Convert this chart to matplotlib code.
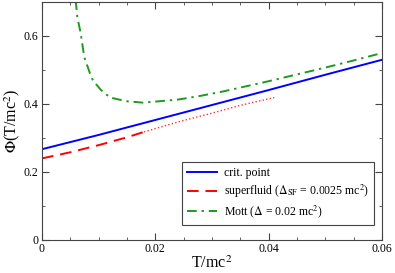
import matplotlib
matplotlib.use("Agg")
import matplotlib.pyplot as plt
from matplotlib.ticker import MultipleLocator

plt.rcParams['font.family'] = ['Liberation Serif', 'DejaVu Serif']
plt.rcParams['mathtext.fontset'] = 'stix'

# critical point line
crit_T = [0.0, 0.005, 0.01, 0.02, 0.03, 0.04, 0.05, 0.06]
crit_phi = [0.267, 0.288, 0.309, 0.353, 0.397, 0.441, 0.486, 0.530]

# superfluid, dashed part then dotted continuation
sf_T = [0.0, 0.005, 0.01, 0.015, 0.018]
sf_phi = [0.240, 0.258, 0.279, 0.302, 0.318]
sf_dot_T = [0.018, 0.0244, 0.03, 0.035, 0.041]
sf_dot_phi = [0.318, 0.349, 0.373, 0.396, 0.419]

# Mott
mott_T = [0.00595, 0.00623, 0.00683, 0.00746, 0.00847, 0.0090, 0.01036, 0.0120,
          0.01495, 0.0178, 0.02, 0.024, 0.028, 0.032, 0.036, 0.04, 0.045, 0.05,
          0.055, 0.06]
mott_phi = [0.705, 0.656, 0.608, 0.538, 0.490, 0.469, 0.442, 0.419,
            0.408, 0.404, 0.407, 0.413, 0.424, 0.437, 0.452, 0.467, 0.487, 0.507,
            0.528, 0.550]

x_ticks = [0.0, 0.02, 0.04, 0.06]
x_labels = ['0', '0.02', '0.04', '0.06']
y_ticks = [0.0, 0.2, 0.4, 0.6]
y_labels = ['0', '0.2', '0.4', '0.6']

fig = plt.figure(figsize=(3.95, 2.73), dpi=100)
ax = fig.add_axes([0.1063, 0.1209, 0.8607, 0.8718])

ax.plot(crit_T, crit_phi, color='#0000ff', lw=1.4, label='crit. point')
ax.plot(sf_T, sf_phi, color='#ff0000', lw=1.4, ls=(0, (6, 3.5)),
        label=r'superfluid ($\Delta_{\rm SF}$ = 0.0025 mc$^2$)')
ax.plot(sf_dot_T, sf_dot_phi, color='#ff3030', lw=1.0, ls=(0, (1, 1.6)))
ax.plot(mott_T, mott_phi, color='#1e9a1e', lw=1.4, ls=(0, (5, 2.5, 1.2, 2.5)),
        label=r'Mott ($\Delta$ = 0.02 mc$^2$)')

ax.set_xlim(0, 0.06)
ax.set_ylim(0, 0.7)
ax.set_xticks(x_ticks)
ax.set_xticklabels(x_labels)
ax.set_yticks(y_ticks)
ax.set_yticklabels(y_labels)
ax.xaxis.set_minor_locator(MultipleLocator(0.005))
ax.yaxis.set_minor_locator(MultipleLocator(0.1))
ax.tick_params(which='both', direction='in', top=True, right=True,
               labelsize=8.5, color='#444444', pad=2.5)
ax.tick_params(which='major', length=5)
ax.tick_params(which='minor', length=2.5)
for s in ax.spines.values():
    s.set_color('#444444')

ax.set_xlabel(r'T/mc$^2$', fontsize=11.5, labelpad=0)
ax.set_ylabel(r'$\Phi$(T/mc$^2$)', fontsize=11.5, labelpad=1)

leg = ax.legend(loc='lower right', bbox_to_anchor=(0.976, 0.063), fontsize=8.5,
                fancybox=False, edgecolor='#444444', framealpha=1,
                handlelength=2.55, borderpad=0.4, labelspacing=0.3,
                handletextpad=0.6, borderaxespad=0)
leg.get_frame().set_linewidth(0.8)

fig.savefig('out.png', dpi=100)
